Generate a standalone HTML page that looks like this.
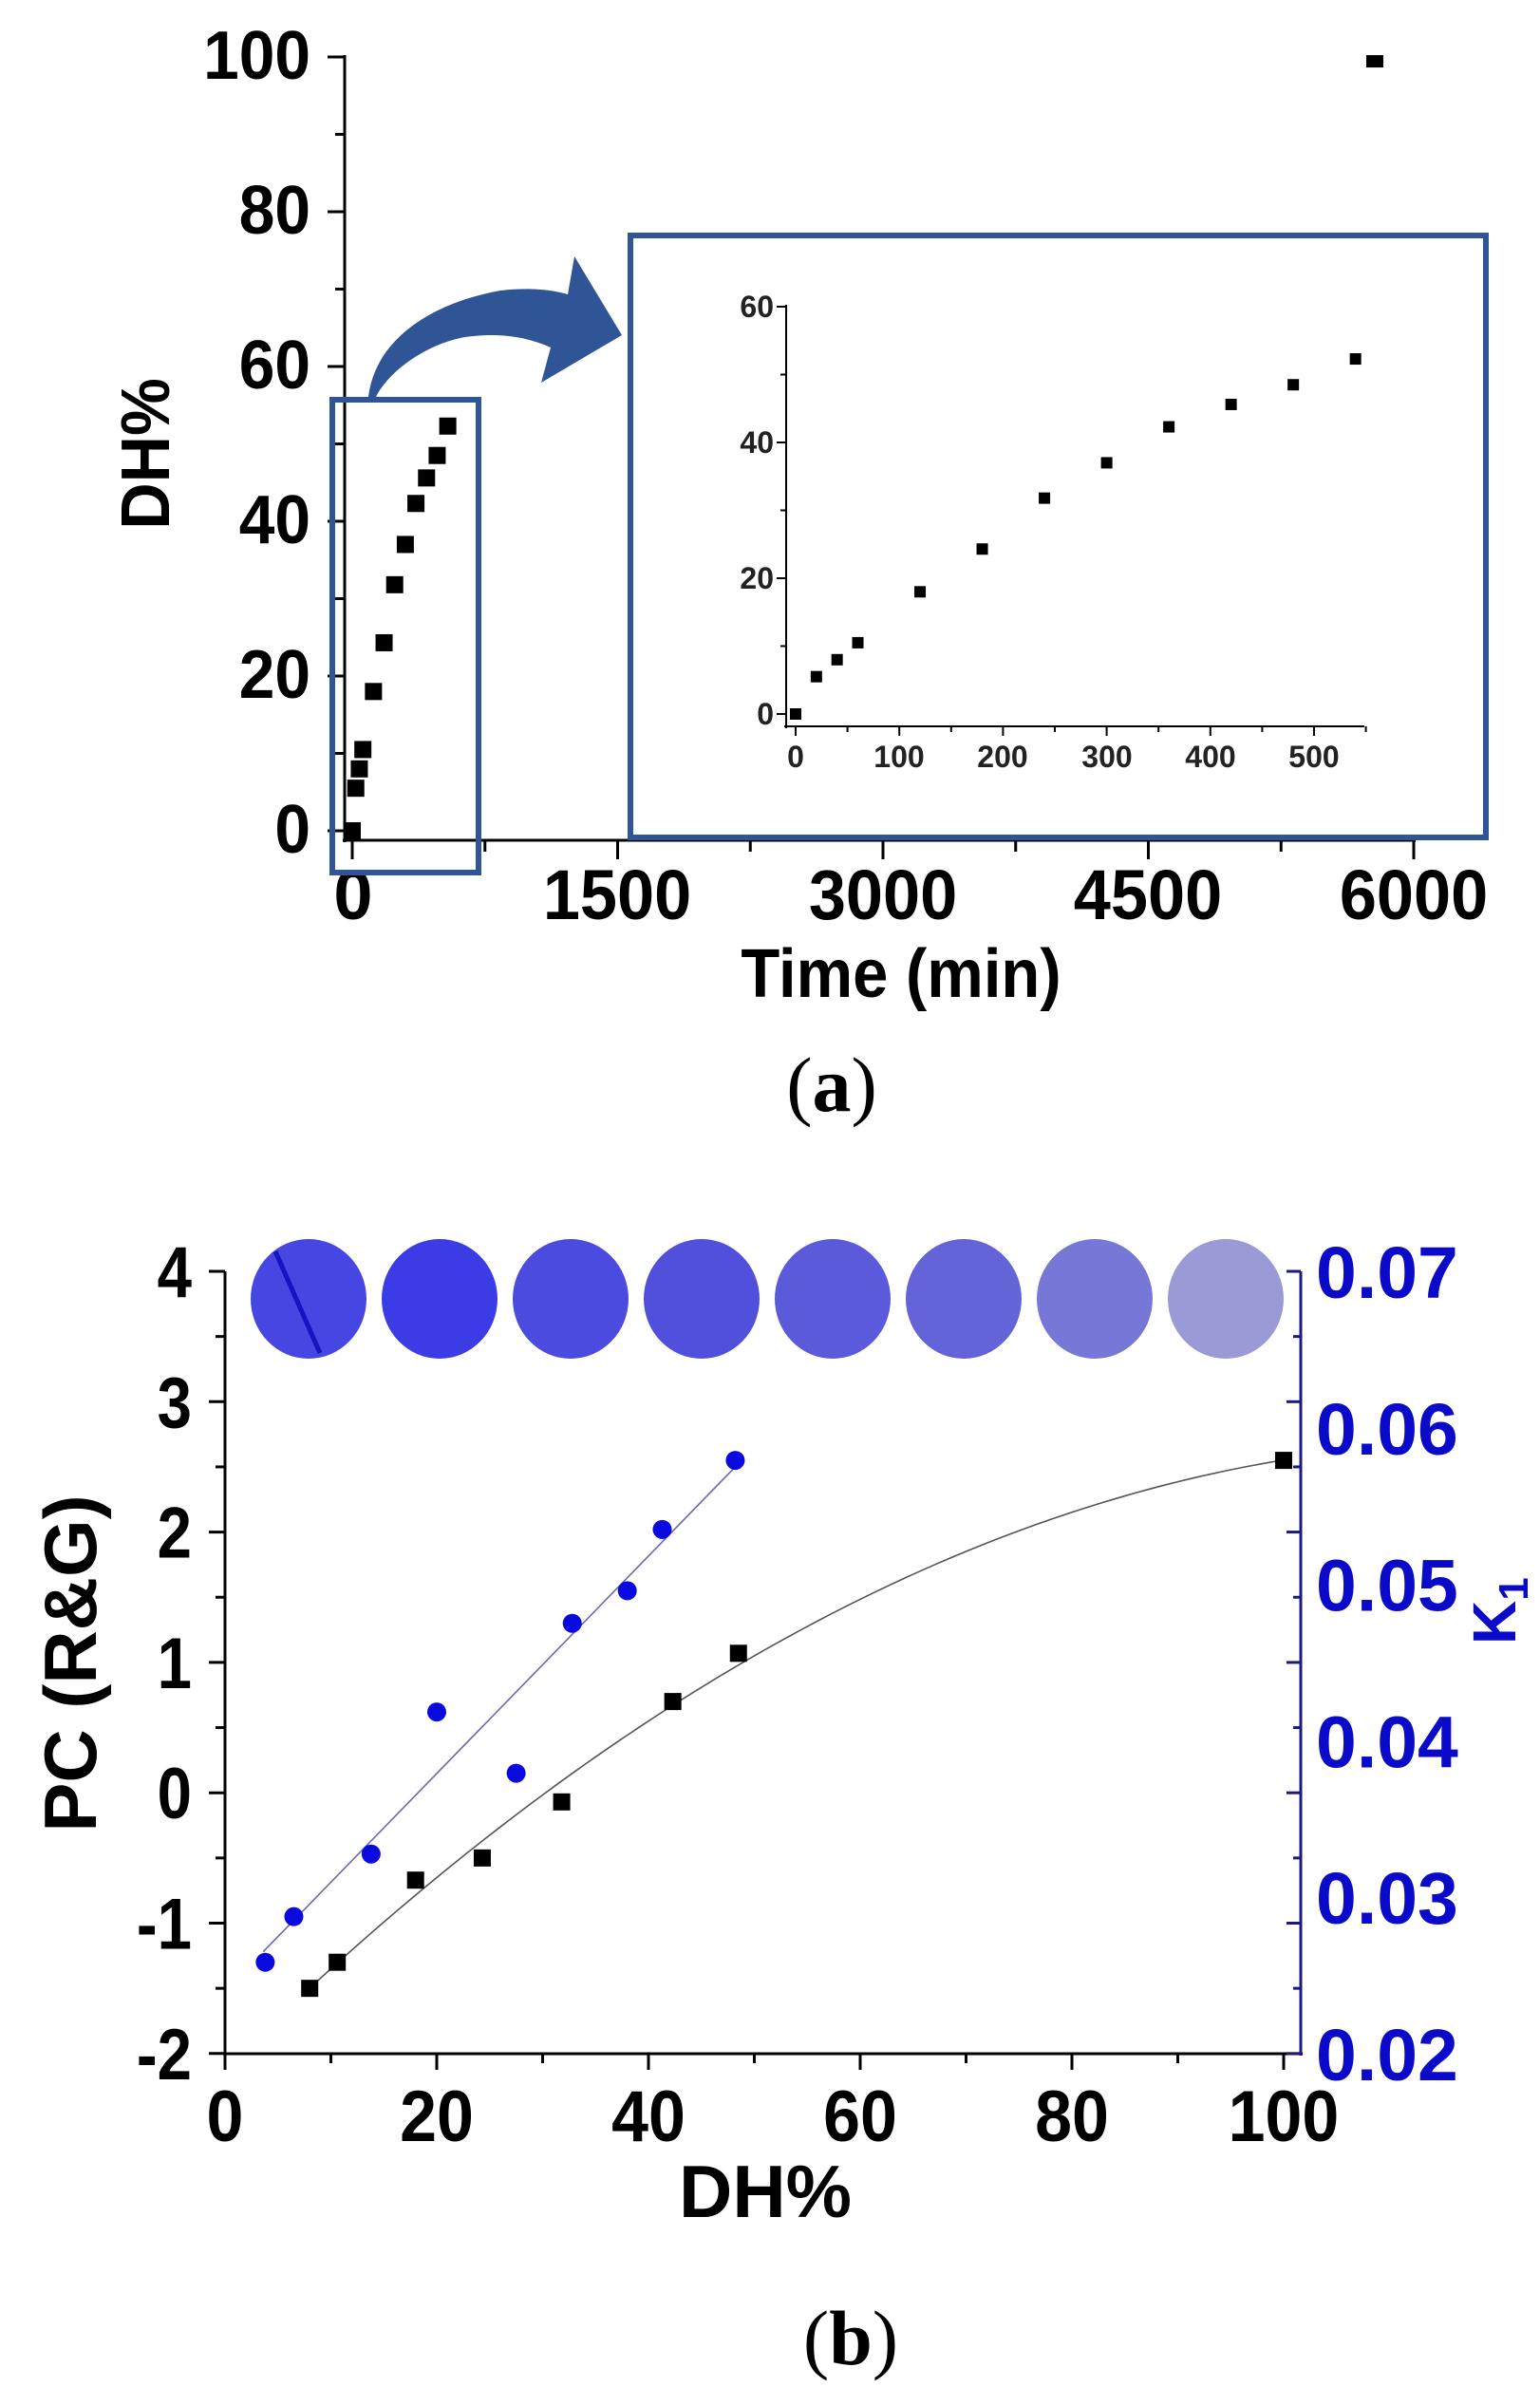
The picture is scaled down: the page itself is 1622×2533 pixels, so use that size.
<!DOCTYPE html>
<html><head><meta charset="utf-8"><style>html,body{margin:0;padding:0;background:#fff}svg{display:block}</style></head>
<body>
<svg id="s" width="1622" height="2533" viewBox="0 0 1622 2533" xmlns="http://www.w3.org/2000/svg" font-family="Liberation Sans, sans-serif">
<rect width="1622" height="2533" fill="#fff"/>
<g stroke="#000" stroke-width="3" fill="none">
<line x1="363" y1="58" x2="363" y2="887"/>
<line x1="361" y1="885" x2="1491" y2="885"/>
</g>
<g id="aTicks" stroke="#000" stroke-width="3"></g>
<g font-weight="bold" font-size="72" text-anchor="end" fill="#000">
<text x="327" y="83" transform="translate(327 0) scale(0.94 1) translate(-327 0)">100</text>
<text x="327" y="246" transform="translate(327 0) scale(0.94 1) translate(-327 0)">80</text>
<text x="327" y="409" transform="translate(327 0) scale(0.94 1) translate(-327 0)">60</text>
<text x="327" y="572" transform="translate(327 0) scale(0.94 1) translate(-327 0)">40</text>
<text x="327" y="735" transform="translate(327 0) scale(0.94 1) translate(-327 0)">20</text>
<text x="327" y="898" transform="translate(327 0) scale(0.94 1) translate(-327 0)">0</text>
</g>
<g font-weight="bold" font-size="74" text-anchor="middle" fill="#000">
<text x="372" y="968">0</text>
<text x="650" y="968" transform="translate(650 0) scale(0.95 1) translate(-650 0)">1500</text>
<text x="930" y="968" transform="translate(930 0) scale(0.95 1) translate(-930 0)">3000</text>
<text x="1209" y="968" transform="translate(1209 0) scale(0.95 1) translate(-1209 0)">4500</text>
<text x="1489" y="968" transform="translate(1489 0) scale(0.95 1) translate(-1489 0)">6000</text>
<text x="949" y="1050" font-size="72" transform="translate(949 0) scale(0.93 1) translate(-949 0)">Time (min)</text>
<text x="0" y="0" font-size="72" transform="translate(178 478) rotate(-90) scale(0.95 1)">DH%</text>
</g>
<text x="876" y="1170" text-anchor="middle" font-family="Liberation Serif, serif" font-size="82">(<tspan font-weight="bold">a</tspan>)</text>
<g id="aPts" fill="#000"></g>
<rect x="350" y="421" width="154" height="498" fill="none" stroke="#2f5597" stroke-width="6"/>
<rect x="664" y="248" width="901" height="634" fill="#fff" stroke="#2f5597" stroke-width="6"/>
<path d="M388,418 C395,360 450,320 527,306 C560,302 585,306 598,310 L605,270 L655,353 L570,403 L580,366 C555,355 527,350 490,355 C450,362 410,390 396,418 Z" fill="#2f5597"/>
<g stroke="#000" stroke-width="2" fill="none">
<line x1="828" y1="321" x2="828" y2="767"/>
<line x1="826" y1="765" x2="1437" y2="765"/>
</g>
<g id="iTicks" stroke="#000" stroke-width="2"></g>
<g font-size="32" font-weight="bold" fill="#222" text-anchor="end">
<text x="815" y="334">60</text><text x="815" y="477">40</text><text x="815" y="620">20</text><text x="815" y="763">0</text>
</g>
<g font-size="32" font-weight="bold" fill="#222" text-anchor="middle">
<text x="838" y="808">0</text><text x="947" y="808">100</text><text x="1056" y="808">200</text><text x="1166" y="808">300</text><text x="1275" y="808">400</text><text x="1384" y="808">500</text>
</g>
<g id="iPts" fill="#000"></g>
<g id="dishes"></g>
<g stroke="#000" stroke-width="3" fill="none">
<line x1="237" y1="1339" x2="237" y2="2165"/>
<line x1="235" y1="2163" x2="1372" y2="2163"/>
</g>
<line x1="1370" y1="1339" x2="1370" y2="2165" stroke="#1a1a80" stroke-width="3"/>
<g id="bTicks"></g>
<g font-weight="bold" font-size="76" text-anchor="end" fill="#000" id="bL"></g>
<g font-weight="bold" font-size="76" text-anchor="middle" fill="#000" id="bX"></g>
<g font-weight="bold" font-size="77" fill="#0a0ac8" id="bR"></g>
<text x="806" y="2335" font-weight="bold" font-size="78" text-anchor="middle">DH%</text>
<text transform="translate(101 1752) rotate(-90)" font-weight="bold" font-size="78" text-anchor="middle">PC (R&amp;G)</text>
<text transform="translate(1596 1732) rotate(-90)" font-weight="bold" font-size="64" fill="#0a0ac8">K<tspan font-size="44" dy="13">1</tspan></text>
<polyline id="curve" fill="none" stroke="#555" stroke-width="1.6"/>
<line id="bline" stroke="#6a6aa8" stroke-width="1.6"/>
<g id="bPts"></g>
<text x="896" y="2490" text-anchor="middle" font-family="Liberation Serif, serif" font-size="82">(<tspan font-weight="bold">b</tspan>)</text>
</svg>
<script>
var NS="http://www.w3.org/2000/svg";
function el(p,t,a,txt){var e=document.createElementNS(NS,t);for(var k in a)e.setAttribute(k,a[k]);if(txt!=null)e.textContent=txt;document.getElementById(p).appendChild(e);return e;}
var ax=function(t){return 371+t/1500*279.5}, ay=function(v){return 875-v*8.15};
for(var v=0;v<=100;v+=10){var y=ay(v);el('aTicks','line',{x1:v%20?353:345,y1:y,x2:363,y2:y});}
for(var t=0;t<=6000;t+=750){var x=ax(t);el('aTicks','line',{x1:x,y1:885,x2:x,y2:t%1500?897:905});}
var T=[0,20,40,60,120,180,240,300,360,420,480,540],D=[0,5.5,8,10.5,18,24.3,31.8,37,42.3,45.6,48.5,52.3];
for(var i=0;i<T.length;i++)el('aPts','rect',{x:ax(T[i])-9,y:ay(D[i])-9,width:18,height:18});
el('aPts','rect',{x:ax(5780)-9,y:ay(99.5)-6,width:18,height:13});
var ix=function(t){return 838+t*1.092}, iy=function(v){return 752-v*7.15};
for(var v=0;v<=60;v+=10){var y=iy(v);el('iTicks','line',{x1:v%20?822:818,y1:y,x2:828,y2:y});}
for(var t=0;t<=550;t+=50){var x=ix(t);el('iTicks','line',{x1:x,y1:765,x2:x,y2:t%100?771:775});}
for(var i=0;i<T.length;i++)el('iPts','rect',{x:ix(T[i])-6,y:iy(D[i])-6,width:12,height:12});
var bx=function(d){return 237+d*11.15}, by=function(p){return 1339+(4-p)*137.3};
var cols=['#4646e2','#3c3ce6','#4b4be0','#5050dd','#5a5ada','#6464d8','#7777d8','#9a9ad6'];
for(var i=0;i<8;i++){var cx=325+i*138;el('dishes','ellipse',{cx:cx,cy:1368,rx:61,ry:63,fill:cols[i]});}
el('dishes','line',{x1:290,y1:1318,x2:337,y2:1425,stroke:'#1414c0','stroke-width':5});
for(var p=-2;p<=4;p+=0.5){var y=by(p);el('bTicks','line',{x1:p%1?227:220,y1:y,x2:237,y2:y,stroke:'#000','stroke-width':3});
 el('bTicks','line',{x1:1370,y1:y,x2:p%1?1362:1355,y2:y,stroke:'#1a1a80','stroke-width':3});}
for(var d=0;d<=100;d+=10){var x=bx(d);el('bTicks','line',{x1:x,y1:2163,x2:x,y2:d%20?2173:2180,stroke:'#000','stroke-width':3});}
for(var p=-2;p<=4;p++){el('bL','text',{x:202,y:by(p)+27,transform:'translate(202 0) scale(0.86 1) translate(-202 0)'},String(p));}
for(var d=0;d<=100;d+=20){var x=bx(d);el('bX','text',{x:x,y:2255,transform:'translate('+x+' 0) scale(0.92 1) translate('+(-x)+' 0)'},String(d));}
var kl=['0.02','0.03','0.04','0.05','0.06','0.07'];
for(var i=0;i<6;i++)el('bR','text',{x:1386,y:by(-2+i*1.2)+28},kl[i]);
var pts=[];for(var d=8;d<=100;d+=1){pts.push(bx(d)+','+by(-2.117+0.08*d-0.000333*d*d));}
document.getElementById('curve').setAttribute('points',pts.join(' '));
var bl=document.getElementById('bline');bl.setAttribute('x1',bx(3.6));bl.setAttribute('y1',by(-1.22));bl.setAttribute('x2',bx(48.2));bl.setAttribute('y2',by(2.5));
var S=[[8,-1.5],[10.6,-1.3],[18,-0.67],[24.3,-0.5],[31.8,-0.07],[42.3,0.7],[48.5,1.07],[100,2.55]];
S.forEach(function(s){el('bPts','rect',{x:bx(s[0])-9,y:by(s[1])-9,width:18,height:18,fill:'#000'});});
var C=[[3.8,-1.3],[6.5,-0.95],[13.8,-0.47],[20,0.62],[27.5,0.15],[32.8,1.3],[38,1.55],[41.3,2.02],[48.2,2.55]];
C.forEach(function(c){el('bPts','circle',{cx:bx(c[0]),cy:by(c[1]),r:10,fill:'#0a0ae0'});});
</script>
</body></html>
